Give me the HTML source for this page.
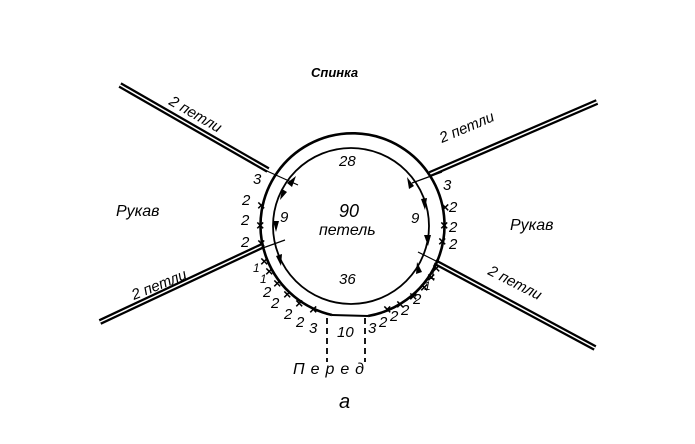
<!DOCTYPE html>
<html><head><meta charset="utf-8"><style>
body{margin:0;background:#fff}
text{font-family:"Liberation Sans","DejaVu Sans",sans-serif;font-style:italic;fill:#000}
</style></head><body>
<svg width="695" height="439" viewBox="0 0 695 439" xmlns="http://www.w3.org/2000/svg">
<g stroke="#000" fill="none">
<g stroke-width="6"><line x1="120" y1="85" x2="268" y2="170"/><line x1="430" y1="174" x2="597" y2="102"/><line x1="100" y1="322" x2="262" y2="246"/><line x1="435" y1="262" x2="595" y2="348"/></g>
<g stroke="#fff" stroke-width="1.5"><line x1="120" y1="85" x2="268" y2="170"/><line x1="430" y1="174" x2="597" y2="102"/><line x1="100" y1="322" x2="262" y2="246"/><line x1="435" y1="262" x2="595" y2="348"/></g>
<path d="M 332 315 A 92 92 0 1 1 368 316" stroke-width="2.6"/>
<line x1="332" y1="315" x2="368" y2="316" stroke-width="2"/>
<circle cx="351" cy="226" r="78" stroke-width="1.8"/>
<g stroke-width="1.2">
<line x1="258" y1="167" x2="298" y2="185"/>
<line x1="412" y1="183" x2="442" y2="172"/>
<line x1="260" y1="249" x2="285" y2="240"/>
<line x1="418" y1="252" x2="438" y2="262"/>
</g>
<g stroke-width="1.8" stroke-dasharray="6,4"><line x1="327" y1="318" x2="327" y2="362"/><line x1="365" y1="318" x2="365" y2="362"/></g>
</g>
<g fill="#000">
<polygon points="296,176 292,187 287,183"/>
<polygon points="280,200 282,189 287,192"/>
<polygon points="276,232 273,221 279,221"/>
<polygon points="281,266 276,256 282,254"/>
<polygon points="407,177 414,186 409,189"/>
<polygon points="425,210 421,199 427,198"/>
<polygon points="428,246 424,235 431,235"/>
<polygon points="417,262 422,272 416,274"/>
</g>
<g font-size="14" font-style="normal" font-weight="bold" text-anchor="middle">
<text x="261" y="210">×</text><text x="260" y="230">×</text><text x="261" y="248">×</text>
<text x="264" y="266">×</text><text x="269" y="276">×</text><text x="277" y="288">×</text><text x="287" y="299">×</text><text x="299" y="308">×</text><text x="313" y="314">×</text>
<text x="445" y="212">×</text><text x="444" y="230">×</text><text x="442" y="246">×</text>
<text x="436" y="273">×</text><text x="431" y="282">×</text><text x="424" y="292">×</text><text x="413" y="301">×</text><text x="400" y="309">×</text><text x="387" y="314">×</text>
</g>
<g font-size="15">
<text x="311" y="77" font-style="normal" font-weight="bold" font-size="13">Спинка</text>
<text x="168" y="104" transform="rotate(30 168 104)">2 петли</text>
<text x="442" y="143" transform="rotate(-23 442 143)">2 петли</text>
<text x="134" y="300" transform="rotate(-22 134 300)">2 петли</text>
<text x="487" y="274" transform="rotate(27 487 274)">2 петли</text>
<text x="116" y="216" font-size="16">Рукав</text>
<text x="510" y="230" font-size="16">Рукав</text>
<text x="339" y="166">28</text><text x="339" y="284">36</text>
<text x="339" y="217" font-size="18">90</text><text x="319" y="235" font-size="16">петель</text>
<text x="280" y="222">9</text><text x="411" y="223">9</text>
<text x="337" y="337">10</text>
<text x="253" y="184">3</text><text x="242" y="205">2</text><text x="241" y="225">2</text><text x="241" y="247">2</text>
<text x="443" y="190">3</text><text x="449" y="212">2</text><text x="449" y="232">2</text><text x="449" y="249">2</text>
<text x="253" y="272" font-size="12">1</text><text x="260" y="283" font-size="12">1</text><text x="263" y="297">2</text><text x="271" y="308">2</text><text x="284" y="319">2</text><text x="296" y="327">2</text><text x="309" y="333">3</text>
<text x="429" y="279" font-size="12">1</text><text x="424" y="290" font-size="12">1</text><text x="413" y="304">2</text><text x="401" y="315">2</text><text x="390" y="321">2</text><text x="379" y="327">2</text><text x="368" y="333">3</text>
<text x="293" y="374" font-style="normal" font-size="16" letter-spacing="6">Перед</text>
<text x="339" y="408" font-size="20">а</text>
</g>
</svg>
</body></html>
